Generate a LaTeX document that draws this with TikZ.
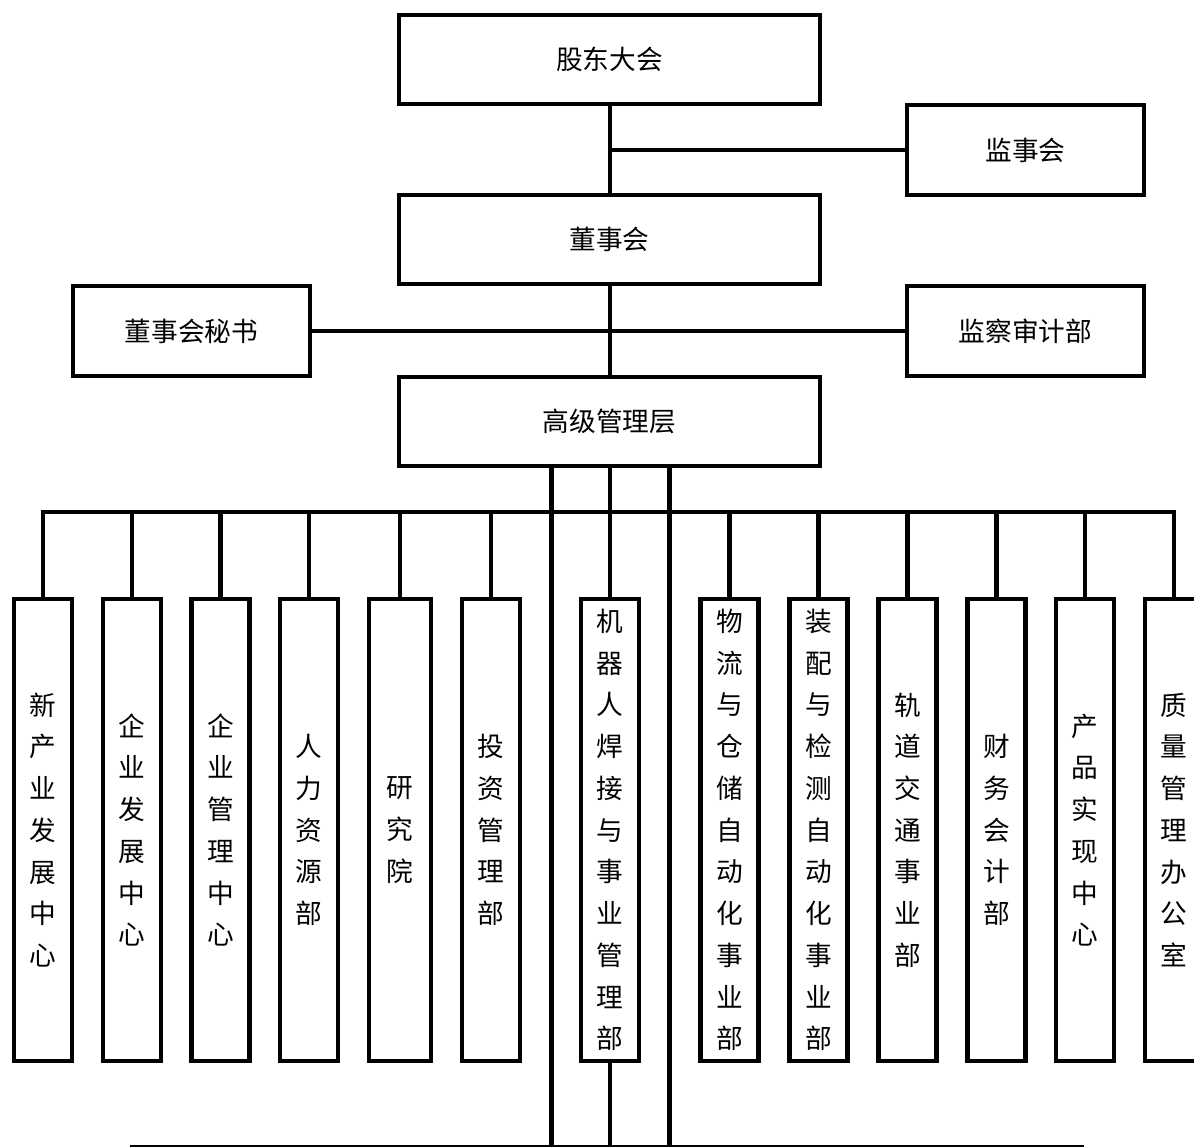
\documentclass[tikz,border=0pt]{standalone}
\usepackage{fontspec}
\newfontfamily\cjk{Noto Sans CJK SC}
\begin{document}
\begin{tikzpicture}[x=0.75pt,y=-0.75pt,line width=3.4pt,
  hbox/.style={draw,line width=3.4pt,inner sep=0pt,minimum height={89*0.75pt},
    font=\cjk\fontsize{20}{24}\selectfont},
  wide/.style={minimum width={421*0.75pt}},
  side/.style={minimum width={237*0.75pt},minimum height={90*0.75pt}},
  vbox/.style={draw,line width=3.4pt,inner sep=0pt,align=center,
    minimum width={58*0.75pt},minimum height={462*0.75pt},
    font=\cjk\fontsize{20}{31.3}\selectfont},
  thinline/.style={line width=0.8pt}]
\useasboundingbox (0,0) rectangle (1194,1147);
\clip (0,0) rectangle (1194,1147);
% top level boxes
\node[hbox,wide] (gdh) at (609.5,59.5) {股东大会};
\node[hbox,side] (jsh) at (1025.5,150) {监事会};
\node[hbox,wide] (dsh) at (609.5,239.5) {董事会};
\node[hbox,side] (mishu) at (191.5,331) {董事会秘书};
\node[hbox,side] (jcsj) at (1025.5,331) {监察审计部};
\node[hbox,wide] (gjgl) at (609.5,421.5) {高级管理层};
% department boxes
\node[vbox] (b1) at (43,830) {新\\产\\业\\发\\展\\中\\心};
\node[vbox] (b2) at (132,830) {企\\业\\发\\展\\中\\心};
\node[vbox] (b3) at (220.5,830) {企\\业\\管\\理\\中\\心};
\node[vbox] (b4) at (309,830) {人\\力\\资\\源\\部};
\node[vbox,minimum width={62*0.75pt}] (b5) at (400,830) {研\\究\\院};
\node[vbox] (b6) at (491,830) {投\\资\\管\\理\\部};
\node[vbox] (b7) at (610,830) {机\\器\\人\\焊\\接\\与\\事\\业\\管\\理\\部};
\node[vbox] (b8) at (729.5,830) {物\\流\\与\\仓\\储\\自\\动\\化\\事\\业\\部};
\node[vbox] (b9) at (818.5,830) {装\\配\\与\\检\\测\\自\\动\\化\\事\\业\\部};
\node[vbox] (b10) at (907.5,830) {轨\\道\\交\\通\\事\\业\\部};
\node[vbox] (b11) at (996.5,830) {财\\务\\会\\计\\部};
\node[vbox] (b12) at (1085,830) {产\\品\\实\\现\\中\\心};
\node[vbox] (b13) at (1174,830) {质\\量\\管\\理\\办\\公\\室};
% helper coordinates
\coordinate (bus) at (610,512);
\coordinate (tA) at (551.5,1147);
\coordinate (tB) at (669.5,1147);
\coordinate (botL) at (130,1146);
\coordinate (botR) at (1084,1146);
% top connectors
\draw (gdh.south -| b7.north) -- (dsh.north -| b7.north);
\draw (jsh.west) -- (jsh.west -| b7.north);
\draw (dsh.south -| b7.north) -- (gjgl.north -| b7.north);
\draw (mishu) -- (jcsj);
\draw (gjgl.south -| b7.north) -- (b7.north);
% bus
\draw (b1.north) |- (bus) -| (b13.north);
\foreach \b in {b2,b3,b4,b5,b6,b8,b9,b10,b11,b12}
  \draw (\b.north) -- (\b.north |- bus);
% through lines
\draw (gjgl.south -| tA) -- (tA);
\draw (gjgl.south -| tB) -- (tB);
\draw (b7.south) -- (b7.south |- tA);
\draw[thinline] (botL) -- (botR);
\end{tikzpicture}
\end{document}
